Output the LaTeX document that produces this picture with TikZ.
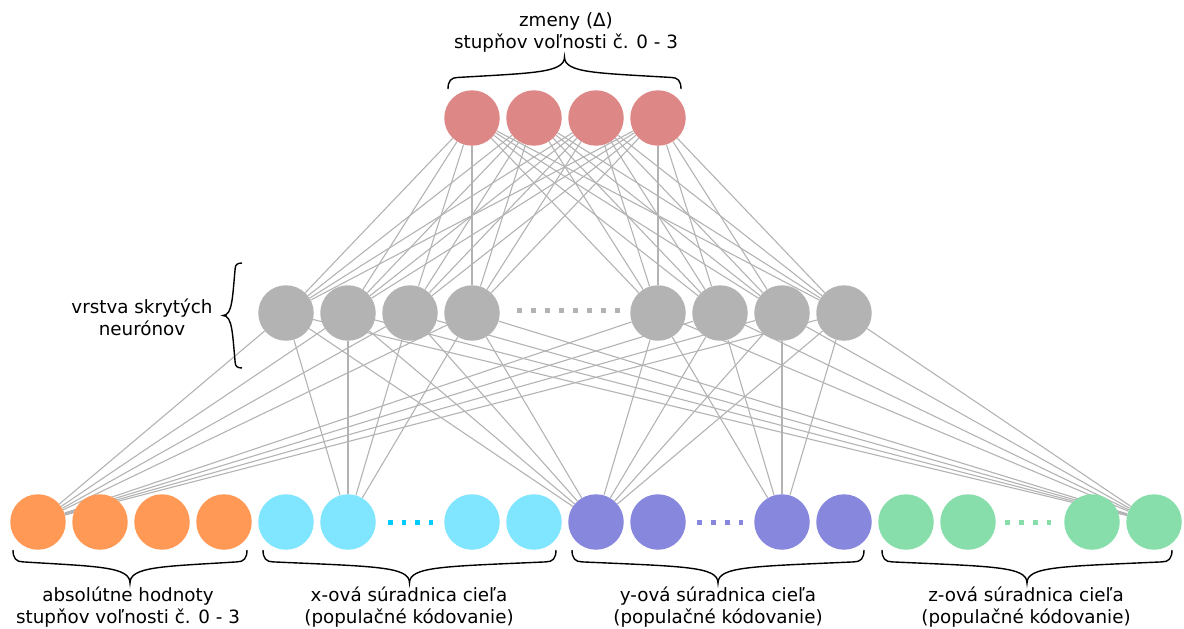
\documentclass[tikz,border=0pt]{standalone}
\usepackage{fontspec}
\setmainfont{DejaVu Sans}
\usetikzlibrary{backgrounds}

\definecolor{cOrange}{HTML}{FF9955}
\definecolor{cCyan}{HTML}{80E5FF}
\definecolor{cCyanDot}{HTML}{00CCFF}
\definecolor{cPurple}{HTML}{8787DE}
\definecolor{cGreen}{HTML}{87DEAA}
\definecolor{cRed}{HTML}{DE8787}
\definecolor{cGray}{HTML}{B3B3B3}

\tikzset{
  % curly brace from (0,0) to (#1,0) with its tip at (#1/2,#2)
  pics/curlybrace/.style 2 args={code={
    \draw[bracestyle] (0,0)
      .. controls (0,{0.25*#2}) and ({0.1*#2},{0.36*#2}) .. ({0.3*#2},{0.36*#2})
      .. controls ({0.5*#1-1.0*#2},{0.5*#2}) and ({0.5*#1},{0.5*#2}) .. ({0.5*#1},{#2})
      .. controls ({0.5*#1},{0.5*#2}) and ({0.5*#1+1.0*#2},{0.5*#2}) .. ({#1-0.3*#2},{0.36*#2})
      .. controls ({#1-0.1*#2},{0.36*#2}) and (#1,{0.25*#2}) .. (#1,0);
  }}
}

\begin{document}
\begin{tikzpicture}[x=1pt,y=-1pt,
  neuron/.style={circle,minimum size=55.5pt,inner sep=0pt,draw=none,fill=#1},
  link/.style={draw=cGray,line width=1.1pt},
  dotrow/.style={draw=#1,line width=5pt,dash pattern=on 4.5pt off 9.2pt},
  bracestyle/.style={draw=black,line width=1.4pt},
  caption/.style={align=center,inner sep=0pt,font=\fontsize{18.3}{22}\selectfont},
]
\useasboundingbox (0,0) rectangle (1184,629);

% output layer
\foreach \i/\x in {1/472,2/534,3/596,4/658}
  \node[neuron=cRed] (t\i) at (\x,118) {};

% hidden layer
\foreach \i/\x in {1/286,2/348,3/410,4/472,5/658,6/720,7/782,8/844}
  \node[neuron=cGray] (h\i) at (\x,313) {};
\coordinate (hd1) at (517,310.5);
\coordinate (hd2) at (619.5,310.5);
\draw[dotrow=cGray,dash pattern=on 4.5pt off 9.5pt] (hd1) -- (hd2);

% input layer
\foreach \i/\x in {1/38,2/100,3/162,4/224}
  \node[neuron=cOrange] (o\i) at (\x,522) {};
\foreach \i/\x in {1/286,2/348,3/472,4/534}
  \node[neuron=cCyan] (c\i) at (\x,522) {};
\foreach \i/\x in {1/596,2/658,3/782,4/844}
  \node[neuron=cPurple] (p\i) at (\x,522) {};
\foreach \i/\x in {1/906,2/968,3/1092,4/1154}
  \node[neuron=cGreen] (g\i) at (\x,522) {};

\coordinate (cd1) at (388,522); \coordinate (cd2) at (433,522);
\coordinate (pd1) at (697,522); \coordinate (pd2) at (743,522);
\coordinate (gd1) at (1005,522); \coordinate (gd2) at (1051,522);
\draw[dotrow=cCyanDot] (cd1) -- (cd2);
\draw[dotrow=cPurple,dash pattern=on 4.5pt off 9.5pt] (pd1) -- (pd2);
\draw[dotrow=cGreen,dash pattern=on 4.5pt off 9.5pt] (gd1) -- (gd2);

% connections
\begin{scope}[on background layer]
  \foreach \h in {1,...,8} {
    \foreach \t in {1,...,4} \draw[link] (h\h) -- (t\t);
    \draw[link] (h\h) -- (o1);
    \draw[link] (h\h) -- (p1);
    \draw[link] (h\h) -- (g4);
  }
  \foreach \h in {1,...,4} \draw[link] (h\h) -- (c2);
  \foreach \h in {5,...,8} \draw[link] (h\h) -- (p3);
\end{scope}

% braces
\pic[rotate=180] at (681,89) {curlybrace={233}{32}};
\pic[rotate=-90] at (242,263) {curlybrace={105}{19}};
\pic at (13,550) {curlybrace={234}{33}};
\pic at (263,550) {curlybrace={293}{33}};
\pic at (572,550) {curlybrace={292}{33}};
\pic at (882,550) {curlybrace={290}{33}};

% captions
\node[caption] (capT) at (566,32) {zmeny (Δ)\\stupňov voľnosti č. 0 - 3};
\node[caption] (capH) at (142,317) {vrstva skrytých\\neurónov};
\node[caption] (capO) at (128,607) {absolútne hodnoty\\stupňov voľnosti č. 0 - 3};
\node[caption] (capC) at (409,607) {x-ová súradnica cieľa\\(populačné kódovanie)};
\node[caption] (capP) at (718,607) {y-ová súradnica cieľa\\(populačné kódovanie)};
\node[caption] (capG) at (1026,607) {z-ová súradnica cieľa\\(populačné kódovanie)};
\end{tikzpicture}
\end{document}
